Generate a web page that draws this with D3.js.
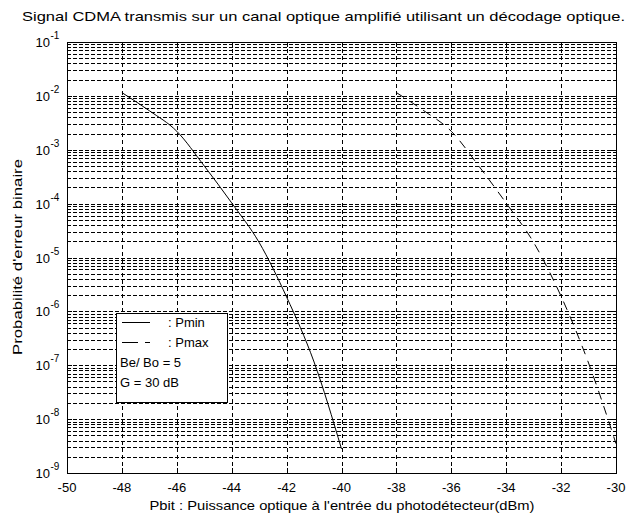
<!DOCTYPE html>
<html><head><meta charset="utf-8">
<script src="https://cdn.jsdelivr.net/npm/d3@7/dist/d3.min.js"></script>
<style>body{margin:0;background:#fff}svg{display:block}text{font-family:"Liberation Sans",Arial,sans-serif;fill:#000}</style>
</head><body><svg id="c" width="634" height="517"></svg>
<script>
const titleText = "Signal CDMA transmis sur un canal optique amplifié utilisant un décodage optique.";
const xLabel = "Pbit : Puissance optique à l'entrée du photodétecteur(dBm)";
const yLabel = "Probabilité d'erreur binaire";
const xTicks = [-50,-48,-46,-44,-42,-40,-38,-36,-34,-32,-30];
const yTickExps = [-1,-2,-3,-4,-5,-6,-7,-8,-9];
const pbitMin = [-48,-47,-46,-45,-44,-43,-42,-41,-40];
const berMin = [1.15e-2,5.3e-3,2.2e-3,5.0e-4,1.03e-4,1.9e-5,1.85e-6,1.15e-7,2.8e-9];
const pbitMax = [-38,-37,-36,-35,-34,-33,-32,-31,-30];
const berMax = [1.15e-2,5.3e-3,2.2e-3,5.0e-4,1.02e-4,1.9e-5,1.9e-6,1.1e-7,3.5e-9];
const legendItems = [": Pmin", ": Pmax"];
const legendNotes = ["Be/ Bo = 5", "G = 30 dB"];

const L=67,R=616,T=42,B=473;
const svg=d3.select("#c");
const x=d3.scaleLinear().domain([-50,-30]).range([L,R]);
const y=d3.scaleLog().domain([1e-9,1e-1]).range([B,T]);

const minors=[];
for(let e=-9;e<-1;e++){for(let k=2;k<=9;k++)minors.push(k*Math.pow(10,e));}
const majors=yTickExps.map(e=>Math.pow(10,e));

const g=svg.append("g");
g.selectAll(".hg").data(minors.concat(majors.filter(v=>v>1e-9&&v<1e-1))).enter().append("line")
 .attr("x1",L).attr("x2",R).attr("y1",d=>Math.round(y(d))+0.5).attr("y2",d=>Math.round(y(d))+0.5)
 .attr("stroke","#000").attr("stroke-width",1).attr("stroke-dasharray","4,2");
g.selectAll(".vg").data(xTicks.slice(1,-1)).enter().append("line")
 .attr("y1",T).attr("y2",B).attr("x1",d=>Math.round(x(d))+0.5).attr("x2",d=>Math.round(x(d))+0.5)
 .attr("stroke","#000").attr("stroke-width",1).attr("stroke-dasharray","4,3");

const tk=svg.append("g").attr("stroke","#000").attr("stroke-width",1);
xTicks.forEach(v=>{const px=Math.round(x(v))+0.5;
 tk.append("line").attr("x1",px).attr("x2",px).attr("y1",B).attr("y2",B-5);
 tk.append("line").attr("x1",px).attr("x2",px).attr("y1",T).attr("y2",T+5);});
majors.forEach(v=>{const py=Math.round(y(v))+0.5;
 tk.append("line").attr("x1",L).attr("x2",L+5).attr("y1",py).attr("y2",py);
 tk.append("line").attr("x1",R).attr("x2",R-5).attr("y1",py).attr("y2",py);});
minors.forEach(v=>{const py=Math.round(y(v))+0.5;
 tk.append("line").attr("x1",L).attr("x2",L+3).attr("y1",py).attr("y2",py);
 tk.append("line").attr("x1",R).attr("x2",R-3).attr("y1",py).attr("y2",py);});

svg.append("clipPath").attr("id","cp").append("rect").attr("x",L).attr("y",T).attr("width",R-L).attr("height",B-T);
const line=d3.line().x(d=>x(d[0])).y(d=>y(d[1])).curve(d3.curveMonotoneX);
svg.append("path").attr("clip-path","url(#cp)").attr("d",line(pbitMin.map((v,i)=>[v,berMin[i]])))
 .attr("fill","none").attr("stroke","#000").attr("stroke-width",1);
svg.append("path").attr("clip-path","url(#cp)").attr("d",line(pbitMax.map((v,i)=>[v,berMax[i]])))
 .attr("fill","none").attr("stroke","#000").attr("stroke-width",1).attr("stroke-dasharray","9,7");

svg.append("rect").attr("x",L+0.5).attr("y",T+0.5).attr("width",R-L).attr("height",B-T)
 .attr("fill","none").attr("stroke","#000").attr("stroke-width",1);

xTicks.forEach(v=>{svg.append("text").attr("x",x(v)).attr("y",492).attr("text-anchor","middle")
 .attr("font-size",13).text(v);});
yTickExps.forEach(e=>{const py=y(Math.pow(10,e));
 svg.append("text").attr("x",50).attr("y",py+5).attr("text-anchor","end").attr("font-size",13).text("10");
 svg.append("text").attr("x",50.5).attr("y",py-3).attr("font-size",10).text(e);});

svg.append("text").attr("x",22).attr("y",21).attr("font-size",13)
 .attr("textLength",603).attr("lengthAdjust","spacingAndGlyphs").text(titleText);
svg.append("text").attr("x",342).attr("y",510).attr("text-anchor","middle").attr("font-size",13)
 .attr("textLength",385).attr("lengthAdjust","spacingAndGlyphs").text(xLabel);
svg.append("text").attr("transform","translate(22,257) rotate(-90)").attr("text-anchor","middle").attr("font-size",13)
 .attr("textLength",196).attr("lengthAdjust","spacingAndGlyphs").text(yLabel);

const lg=svg.append("g");
lg.append("rect").attr("x",116.5).attr("y",313.5).attr("width",111).attr("height",89)
 .attr("fill","#fff").attr("stroke","#000").attr("stroke-width",1);
lg.append("line").attr("x1",122).attr("x2",150).attr("y1",322.5).attr("y2",322.5).attr("stroke","#000");
lg.append("line").attr("x1",122).attr("x2",150).attr("y1",342.5).attr("y2",342.5).attr("stroke","#000").attr("stroke-dasharray","16,7");
legendItems.forEach((t,i)=>lg.append("text").attr("x",168).attr("y",327+i*20).attr("font-size",13).text(t));
legendNotes.forEach((t,i)=>lg.append("text").attr("x",120).attr("y",367+i*19.5).attr("font-size",13).text(t));
</script></body></html>
